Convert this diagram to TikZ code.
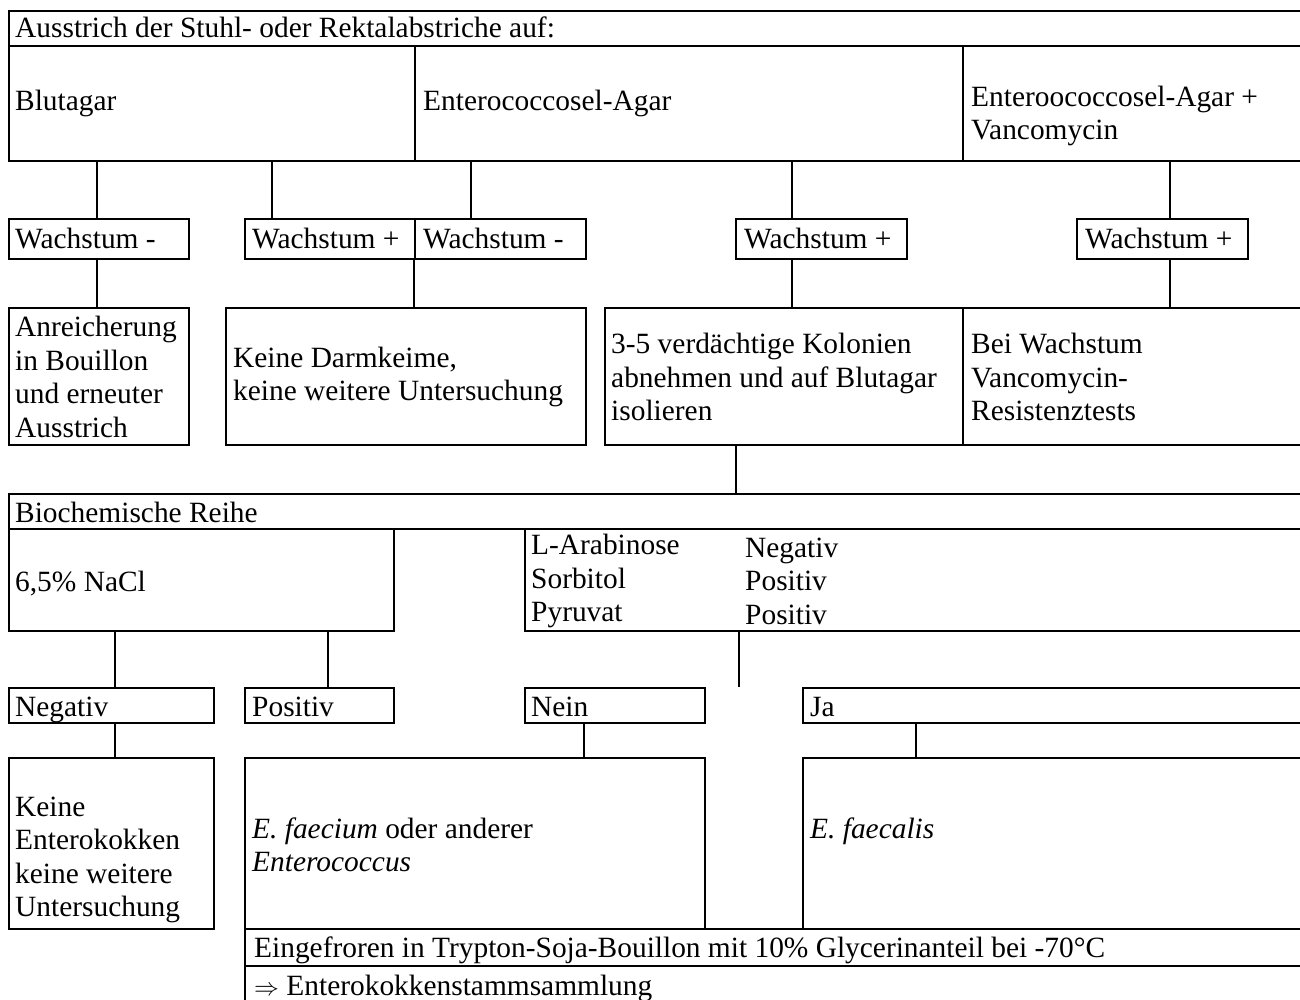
\documentclass[tikz,border=0pt]{standalone}
\usepackage{fontspec}
\setmainfont{Liberation Serif}
\begin{document}
\begin{tikzpicture}[x=1pt,y=-1pt,
  box/.style={draw, line width=2pt, inner sep=0pt, anchor=north west},
  txt/.style={anchor=west, inner sep=0pt, align=left, font=\fontsize{29.4}{33.5}\selectfont},
  txtone/.style={txt, text height=20pt, text depth=0pt},
  conn/.style={line width=2pt}]
\useasboundingbox (0,0) rectangle (1300,1000);
\clip (0,0) rectangle (1300,1000);
% ---------- top section
\node[box, minimum width=1302pt, minimum height=35pt] (title) at (8,10) {};
\node[box, minimum width=406pt, minimum height=115pt] (blut) at (8,45) {};
\node[box, minimum width=548pt, minimum height=115pt] (ent) at (414,45) {};
\node[box, minimum width=348pt, minimum height=115pt] (vanc) at (962,45) {};
\node[box, minimum width=180pt, minimum height=40pt] (w1) at (8,218) {};
\node[box, minimum width=170pt, minimum height=40pt] (w2) at (244,218) {};
\node[box, minimum width=171pt, minimum height=40pt] (w3) at (414,218) {};
\node[box, minimum width=171pt, minimum height=40pt] (w4) at (735,218) {};
\node[box, minimum width=171pt, minimum height=40pt] (w5) at (1076,218) {};
\node[box, minimum width=180pt, minimum height=137pt] (anr) at (8,307) {};
\node[box, minimum width=360pt, minimum height=137pt] (kd) at (225,307) {};
\node[box, minimum width=358pt, minimum height=137pt] (iso) at (604,307) {};
\node[box, minimum width=348pt, minimum height=137pt] (bei) at (962,307) {};
% ---------- biochemical section
\node[box, minimum width=1302pt, minimum height=35pt] (bio) at (8,493) {};
\node[box, minimum width=385pt, minimum height=102pt] (nacl) at (8,528) {};
\node[box, minimum width=786pt, minimum height=102pt] (arab) at (524,528) {};
\node[box, minimum width=205pt, minimum height=35pt] (neg) at (8,687) {};
\node[box, minimum width=149pt, minimum height=35pt] (pos) at (244,687) {};
\node[box, minimum width=180pt, minimum height=35pt] (nein) at (524,687) {};
\node[box, minimum width=508pt, minimum height=35pt] (ja) at (802,687) {};
\node[box, minimum width=205pt, minimum height=171pt] (kein) at (8,757) {};
\node[box, minimum width=460pt, minimum height=171pt] (faecium) at (244,757) {};
\node[box, minimum width=508pt, minimum height=171pt] (faecalis) at (802,757) {};
\node[box, minimum width=1066pt, minimum height=37pt] (frozen) at (244,928) {};
\node[box, minimum width=1066pt, minimum height=50pt] (coll) at (244,965) {};
% ---------- connector x positions
\coordinate (c97) at (97,0);
\coordinate (c272) at (272,0);
\coordinate (c471) at (471,0);
\coordinate (c792) at (792,0);
\coordinate (c1170) at (1170,0);
\coordinate (c414) at (414,0);
\coordinate (c736) at (736,0);
\coordinate (c115) at (115,0);
\coordinate (c328) at (328,0);
\coordinate (c584) at (584,0);
\coordinate (c916) at (916,0);
\coordinate (nj) at (739,687);
% ---------- connectors
\draw[conn] (blut.south -| c97) -- (w1.north -| c97);
\draw[conn] (w1.south -| c97) -- (anr.north -| c97);
\draw[conn] (blut.south -| c272) -- (w2.north -| c272);
\draw[conn] (ent.south -| c471) -- (w3.north -| c471);
\draw[conn] (ent.south -| c792) -- (w4.north -| c792);
\draw[conn] (w4.south -| c792) -- (iso.north -| c792);
\draw[conn] (vanc.south -| c1170) -- (w5.north -| c1170);
\draw[conn] (w5.south -| c1170) -- (bei.north -| c1170);
\draw[conn] (w2.south -| c414) -- (kd.north -| c414);
\draw[conn] (iso.south -| c736) -- (bio.north -| c736);
\draw[conn] (nacl.south -| c115) -- (neg.north -| c115);
\draw[conn] (neg.south -| c115) -- (kein.north -| c115);
\draw[conn] (nacl.south -| c328) -- (pos.north -| c328);
\draw[conn] (arab.south -| nj) -- (nj);
\draw[conn] (nein.south -| c584) -- (faecium.north -| c584);
\draw[conn] (ja.south -| c916) -- (faecalis.north -| c916);
% ---------- texts
\node[txtone] (t1) at (15,28) {Ausstrich der Stuhl- oder Rektalabstriche auf:};
\node[txtone] (t2) at (15,101) {Blutagar};
\node[txtone] (t3) at (423,101) {Enterococcosel-Agar};
\node[txt] (t4) at (971,116) {Enteroococcosel-Agar +\\Vancomycin};
\node[txtone] (t5) at (15,238) {Wachstum -};
\node[txtone] (t6) at (252,238) {Wachstum +};
\node[txtone] (t7) at (423,238) {Wachstum -};
\node[txtone] (t8) at (744,238) {Wachstum +};
\node[txtone] (t9) at (1085,238) {Wachstum +};
\node[txt] (t10) at (15,377) {Anreicherung\\in Bouillon\\und erneuter\\Ausstrich};
\node[txt] (t11) at (233,377) {Keine Darmkeime,\\keine weitere Untersuchung};
\node[txt] (t12) at (611,377) {3-5 verdächtige Kolonien\\abnehmen und auf Blutagar\\isolieren};
\node[txt] (t13) at (971,377) {Bei Wachstum\\Vancomycin-\\Resistenztests};
\node[txtone] (t14) at (15,512) {Biochemische Reihe};
\node[txtone] (t15) at (15,581) {6,5\% NaCl};
\node[txt] (t16) at (531,581) {L-Arabinose\\Sorbitol\\Pyruvat};
\node[txt] (t17) at (745,581) {Negativ\\Positiv\\Positiv};
\node[txtone] (t18) at (15,706) {Negativ};
\node[txtone] (t19) at (252,706) {Positiv};
\node[txtone] (t20) at (531,706) {Nein};
\node[txtone] (t21) at (810,706) {Ja};
\node[txt] (t22) at (15,860) {Keine\\Enterokokken\\keine weitere\\Untersuchung};
\node[txt] (t23) at (252,845) {\textit{E. faecium} oder anderer\\\textit{Enterococcus}};
\node[txtone] (t24) at (810,828) {\textit{E. faecalis}};
\node[txtone] (t25) at (254,947) {Eingefroren in Trypton-Soja-Bouillon mit 10\% Glycerinanteil bei -70°C};
\node[txtone] (t26) at (254,985) {$\Rightarrow$ Enterokokkenstammsammlung};
\end{tikzpicture}
\end{document}
